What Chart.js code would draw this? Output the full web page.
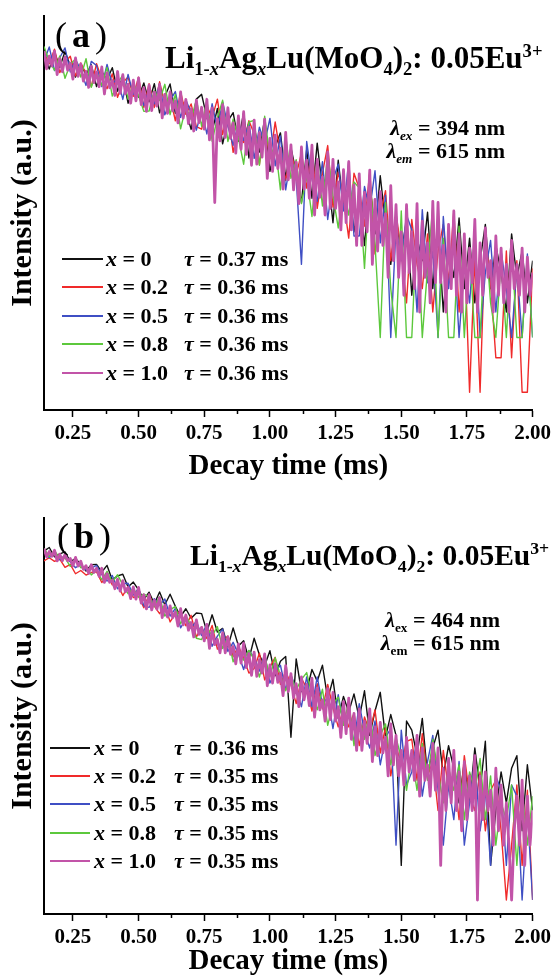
<!DOCTYPE html>
<html>
<head>
<meta charset="utf-8">
<script src="https://cdn.jsdelivr.net/npm/chart.js@4.4.0/dist/chart.umd.min.js"></script>
<style>
  body { margin: 0; width: 555px; height: 976px; position: relative; background: #fff; overflow: hidden;
         font-family: 'Liberation Serif', 'Times New Roman', serif; font-weight: bold; color: #000; }
  .panel { position: absolute; left: 0; width: 555px; height: 488px; }
  .lbl { position: absolute; white-space: nowrap; line-height: 1; }
  .sw { position: absolute; height: 2px; }
  sub, sup { font-size: 0.6em; line-height: 0; }
  .paren { font-weight: normal; }
</style>
</head>
<body>
<div class="panel" style="top:0"><canvas id="chartA"></canvas></div>
<div class="panel" style="top:488px"><canvas id="chartB"></canvas></div>

<div class="lbl" style="left:55px;top:17px;font-size:36px"><span class="paren">(</span><span style="margin:0 5px">a</span><span class="paren">)</span></div>
<div class="lbl" style="left:165px;top:42px;font-size:31px">Li<sub>1-<i>x</i></sub>Ag<sub><i>x</i></sub>Lu(MoO<sub>4</sub>)<sub>2</sub>: 0.05Eu<sup>3+</sup></div>
<div class="lbl" style="right:50px;top:117px;font-size:22px"><i>λ</i><sub><i>ex</i></sub> = 394 nm</div>
<div class="lbl" style="right:50px;top:140px;font-size:22px"><i>λ</i><sub><i>em</i></sub> = 615 nm</div>

<div class="lbl" style="left:57px;top:518px;font-size:36px"><span class="paren">(</span><span style="margin:0 5px">b</span><span class="paren">)</span></div>
<div class="lbl" style="left:190px;top:541px;font-size:29.5px">Li<sub>1-<i>x</i></sub>Ag<sub><i>x</i></sub>Lu(MoO<sub>4</sub>)<sub>2</sub>: 0.05Eu<sup>3+</sup></div>
<div class="lbl" style="right:55px;top:609px;font-size:22px"><i>λ</i><sub>ex</sub> = 464 nm</div>
<div class="lbl" style="right:55px;top:632px;font-size:22px"><i>λ</i><sub>em</sub> = 615 nm</div>

<script>
// time axis: first sample and sampling steps (ms)
const t0 = 0.14;
const stepFine = 0.01;    // x = 1.0 curve
const stepCoarse = 0.02;  // the other four curves
const xTicks = [0.25, 0.5, 0.75, 1.0, 1.25, 1.5, 1.75, 2.0];
const xMinor = [0.375, 0.625, 0.875, 1.125, 1.375, 1.625, 1.875];

const compositions = ['0', '0.2', '0.5', '0.8', '1.0'];
const tauA = ['0.37', '0.36', '0.36', '0.36', '0.36'];
const tauB = ['0.36', '0.35', '0.35', '0.35', '0.35'];
const colors = ['#111111', '#f02a2a', '#3f4fc4', '#5cc83c', '#c254a8'];

// (a) lambda_ex = 394 nm, counts
const blackA = [862, 654, 923, 679, 931, 700, 557, 719, 585, 713,
  461, 623, 530, 673, 420, 564, 330, 455, 372, 496,
  339, 488, 272, 377, 485, 269, 371, 284, 195, 358,
  394, 247, 186, 297, 146, 230, 273, 154, 275, 110,
  203, 124, 243, 84, 137, 182, 74, 135, 82, 45,
  131, 49, 148, 59, 82, 30, 105, 41, 65, 25,
  50, 19, 69, 24, 77, 29, 13, 33, 16, 32,
  7, 22, 14, 37, 8, 27, 5, 18, 10, 33,
  8, 22, 6, 14, 29, 8, 19, 11, 5, 24,
  10, 17, 6, 14];
const redA = [910, 729, 974, 609, 749, 846, 571, 739, 601, 462,
  730, 534, 441, 595, 371, 499, 557, 379, 555, 303,
  489, 303, 507, 326, 375, 232, 414, 264, 325, 206,
  196, 312, 246, 358, 176, 277, 123, 203, 150, 232,
  179, 96, 215, 108, 226, 118, 70, 127, 78, 122,
  60, 134, 40, 81, 141, 41, 83, 48, 22, 81,
  60, 28, 84, 16, 35, 57, 14, 36, 17, 6,
  32, 13, 8, 24, 5, 17, 29, 9, 38, 5,
  20, 1, 15, 1, 24, 9, 2, 2, 17, 2,
  14, 1, 1, 12];
const blueA = [764, 1020, 634, 821, 1001, 618, 797, 641, 471, 764,
  702, 460, 718, 485, 546, 356, 588, 394, 470, 314,
  438, 326, 489, 261, 349, 417, 248, 353, 271, 192,
  284, 178, 326, 195, 338, 209, 142, 223, 157, 222,
  109, 204, 148, 243, 94, 171, 58, 112, 73, 13,
  153, 72, 46, 102, 32, 71, 97, 38, 103, 23,
  23, 62, 39, 85, 20, 52, 3, 27, 14, 35,
  26, 5, 39, 9, 17, 3, 34, 8, 20, 3,
  13, 6, 24, 3, 11, 21, 5, 17, 8, 3,
  12, 3, 16, 3];
const greenA = [1032, 766, 639, 852, 544, 721, 803, 557, 805, 454,
  616, 470, 677, 381, 494, 579, 359, 495, 385, 280,
  282, 425, 348, 482, 262, 394, 197, 306, 238, 353,
  208, 350, 154, 245, 350, 153, 240, 165, 97, 227,
  233, 95, 254, 110, 145, 58, 171, 73, 106, 44,
  77, 34, 105, 42, 120, 52, 27, 63, 35, 68,
  60, 12, 75, 20, 3, 45, 8, 3, 38, 3,
  3, 30, 3, 12, 42, 3, 22, 3, 3, 28,
  3, 18, 3, 3, 25, 6, 3, 14, 3, 20,
  3, 3, 15, 3];
const magentaA = [939, 658, 849, 696, 939, 587, 808, 619, 833, 638,
  738, 536, 819, 566, 725, 514, 626, 453, 690, 499,
  619, 460, 684, 397, 606, 450, 520, 386, 623, 402,
  585, 399, 484, 330, 523, 346, 549, 321, 451, 280,
  473, 285, 413, 311, 482, 246, 393, 269, 414, 283,
  346, 222, 413, 245, 356, 219, 296, 189, 350, 223,
  304, 196, 357, 158, 300, 45, 242, 155, 320, 166,
  301, 163, 222, 121, 256, 131, 278, 118, 204, 95,
  235, 97, 183, 112, 239, 73, 163, 84, 174, 89,
  134, 59, 184, 71, 143, 58, 101, 44, 137, 59,
  105, 49, 142, 35, 107, 50, 75, 35, 124, 40,
  107, 40, 68, 26, 87, 30, 102, 26, 64, 19,
  80, 19, 55, 25, 86, 13, 48, 17, 56, 19,
  36, 10, 63, 14, 43, 10, 25, 7, 43, 11,
  25, 8, 44, 5, 31, 10, 20, 6, 46, 9,
  45, 9, 19, 5, 29, 8, 38, 7, 24, 5,
  24, 6, 18, 9, 32, 5, 20, 7, 27, 10,
  14, 5, 23, 7, 18, 6, 13, 5, 21, 8,
  13, 7, 18, 5, 15, 7, 11];

// (b) lambda_ex = 464 nm
const blackB = [1081, 1163, 964, 1023, 1064, 878, 928, 834, 726, 825,
  829, 712, 812, 607, 658, 680, 527, 582, 497, 409,
  475, 377, 477, 369, 456, 358, 292, 341, 282, 313,
  309, 215, 302, 214, 230, 159, 232, 162, 180, 124,
  189, 135, 109, 147, 89, 119, 131, 26, 125, 65,
  66, 101, 80, 110, 56, 83, 38, 59, 43, 62,
  38, 66, 27, 44, 64, 26, 41, 27, 2, 36,
  30, 18, 38, 12, 21, 30, 12, 22, 14, 7,
  16, 7, 21, 9, 24, 2, 6, 13, 7, 14,
  18, 4, 15, 6];
const redB = [888, 947, 881, 921, 781, 828, 687, 733, 669, 704,
  716, 576, 678, 550, 560, 444, 533, 427, 438, 348,
  452, 360, 309, 367, 262, 309, 322, 242, 299, 193,
  238, 188, 244, 152, 180, 198, 131, 161, 128, 94,
  103, 140, 82, 106, 129, 75, 97, 75, 51, 84,
  70, 44, 76, 46, 75, 47, 32, 46, 32, 42,
  22, 39, 29, 45, 19, 32, 12, 22, 15, 24,
  25, 11, 28, 12, 16, 6, 20, 9, 13, 5,
  18, 8, 6, 13, 4, 9, 11, 4, 1, 3,
  10, 2, 9, 1];
const blueB = [1071, 945, 1046, 910, 994, 871, 776, 827, 741, 770,
  812, 676, 595, 664, 508, 563, 568, 449, 513, 361,
  351, 417, 365, 415, 294, 344, 233, 277, 232, 266,
  199, 251, 161, 197, 227, 145, 174, 138, 101, 147,
  129, 98, 137, 77, 97, 110, 68, 91, 68, 48,
  87, 48, 87, 50, 58, 31, 61, 34, 42, 23,
  51, 29, 21, 36, 15, 26, 31, 3, 30, 10,
  13, 26, 8, 16, 27, 9, 3, 10, 5, 16,
  3, 7, 17, 4, 9, 2, 12, 9, 2, 10,
  8, 1, 6, 1];
const greenB = [1140, 967, 1092, 934, 945, 797, 914, 775, 795, 671,
  737, 609, 721, 583, 674, 550, 461, 511, 431, 457,
  434, 356, 435, 294, 335, 356, 253, 297, 243, 189,
  184, 233, 199, 238, 154, 194, 118, 150, 122, 148,
  123, 87, 131, 88, 128, 89, 66, 89, 67, 83,
  95, 60, 45, 68, 33, 51, 58, 33, 54, 22,
  39, 25, 45, 18, 27, 34, 15, 26, 17, 9,
  18, 9, 23, 11, 25, 13, 7, 14, 9, 15,
  5, 13, 9, 17, 5, 12, 3, 7, 5, 10,
  2, 9, 3, 8];
const magentaB = [1138, 965, 1071, 974, 1101, 888, 1016, 894, 1011, 891,
  932, 802, 953, 802, 883, 751, 808, 693, 822, 704,
  768, 652, 767, 578, 687, 580, 603, 509, 616, 485,
  599, 478, 523, 417, 527, 413, 522, 382, 451, 340,
  452, 333, 404, 338, 426, 286, 366, 289, 361, 285,
  319, 241, 341, 247, 301, 222, 259, 194, 273, 204,
  235, 179, 249, 154, 219, 166, 185, 141, 210, 141,
  194, 137, 160, 113, 169, 115, 171, 105, 139, 90,
  143, 88, 123, 94, 138, 73, 111, 77, 113, 78,
  94, 60, 109, 65, 93, 57, 76, 48, 87, 55,
  75, 49, 85, 39, 70, 45, 55, 36, 69, 37,
  64, 36, 48, 26, 53, 28, 57, 25, 42, 20,
  46, 20, 36, 23, 46, 16, 32, 18, 35, 19,
  26, 12, 34, 15, 27, 12, 20, 10, 26, 13,
  20, 11, 27, 8, 21, 11, 15, 8, 23, 9,
  21, 2, 14, 6, 17, 7, 20, 6, 13, 4,
  16, 5, 12, 6, 18, 1, 12, 5, 13, 6,
  9, 3, 14, 4, 10, 3, 7, 3, 1, 4,
  8, 3, 11, 2, 8, 3, 6];

// log axis ranges
const yRangeA = [0.711, 1898];
const yRangeB = [0.756, 2098];

const serif = "'Liberation Serif', 'Times New Roman', serif";

function toPoints(values, step) {
  return values.map((v, i) => ({ x: +(t0 + i * step).toFixed(3), y: v }));
}

const minorTicks = {
  id: 'minorTicks',
  afterDraw(chart) {
    const sx = chart.scales.x;
    const ctx = chart.ctx;
    const y0 = chart.chartArea.bottom;
    ctx.save();
    ctx.strokeStyle = '#000';
    ctx.lineWidth = 1.5;
    xMinor.forEach(v => {
      const px = Math.round(sx.getPixelForValue(v)) + 0.5;
      ctx.beginPath();
      ctx.moveTo(px, y0);
      ctx.lineTo(px, y0 + 4);
      ctx.stroke();
    });
    ctx.restore();
  }
};

function makeChart(id, series, yRange, layout) {
  // first dataset is drawn on top, so magenta goes first
  const order = [4, 3, 2, 1, 0];
  const datasets = order.map(k => ({
    label: 'x = ' + compositions[k],
    data: toPoints(series[k], k === 4 ? stepFine : stepCoarse),
    borderColor: colors[k],
    borderWidth: k === 4 ? 2.8 : 1.4,
    borderJoinStyle: 'round',
    pointRadius: 0,
    fill: false,
    tension: 0
  }));

  return new Chart(document.getElementById(id), {
    type: 'line',
    data: { datasets },
    options: {
      responsive: true,
      maintainAspectRatio: false,
      animation: false,
      events: [],
      layout: { padding: { left: 0, right: 20, top: layout.top, bottom: 0 } },
      plugins: { legend: { display: false }, tooltip: { enabled: false } },
      scales: {
        x: {
          type: 'linear',
          min: t0,
          max: 2.0,
          afterBuildTicks: s => { s.ticks = xTicks.map(v => ({ value: v })); },
          afterFit: s => { s.height = layout.xHeight; },
          ticks: {
            callback: v => v.toFixed(2),
            color: '#000',
            font: { family: serif, size: 21, weight: 'bold' },
            padding: 4,
            maxRotation: 0,
            autoSkip: false
          },
          grid: { display: true, drawOnChartArea: false, drawTicks: true, tickLength: 7, tickColor: '#000', tickWidth: 1.5 },
          border: { display: true, color: '#000', width: 2 },
          title: {
            display: true,
            text: 'Decay time (ms)',
            color: '#000',
            font: { family: serif, size: 29, weight: 'bold', lineHeight: 1 },
            padding: { top: 0, bottom: layout.titleBottom }
          }
        },
        y: {
          type: 'logarithmic',
          min: yRange[0],
          max: yRange[1],
          afterFit: s => { s.width = 44; },
          ticks: { display: false },
          grid: { display: true, drawOnChartArea: false, drawTicks: false },
          border: { display: true, color: '#000', width: 2 },
          title: {
            display: true,
            text: 'Intensity (a.u.)',
            color: '#000',
            font: { family: serif, size: 30, weight: 'bold', lineHeight: 1 },
            padding: { top: 8, bottom: 0 }
          }
        }
      }
    },
    plugins: [minorTicks]
  });
}

makeChart('chartA', [blackA, redA, blueA, greenA, magentaA], yRangeA, { top: 16, xHeight: 78, titleBottom: 7 });
makeChart('chartB', [blackB, redB, blueB, greenB, magentaB], yRangeB, { top: 30, xHeight: 62, titleBottom: 0 });

// legends: swatch line, composition, lifetime
function addLegend(rows, swLeft, swWidth, textLeft, tauLeft, taus) {
  compositions.forEach((c, k) => {
    const y = rows[k];
    const sw = document.createElement('div');
    sw.className = 'sw';
    sw.style.cssText = `left:${swLeft}px;top:${y - 1}px;width:${swWidth}px;background:${colors[k]}`;
    document.body.appendChild(sw);

    const a = document.createElement('div');
    a.className = 'lbl';
    a.style.cssText = `left:${textLeft}px;top:${y - 11}px;font-size:22px`;
    a.innerHTML = `<i>x</i> = ${c}`;
    document.body.appendChild(a);

    const b = document.createElement('div');
    b.className = 'lbl';
    b.style.cssText = `left:${tauLeft}px;top:${y - 11}px;font-size:22px`;
    b.innerHTML = `<i>τ</i> = ${taus[k]} ms`;
    document.body.appendChild(b);
  });
}

addLegend([259, 287, 316, 344, 373], 62, 41, 106, 184, tauA);
addLegend([748, 776, 804, 833, 861], 50, 40, 94, 174, tauB);
</script>
</body>
</html>
